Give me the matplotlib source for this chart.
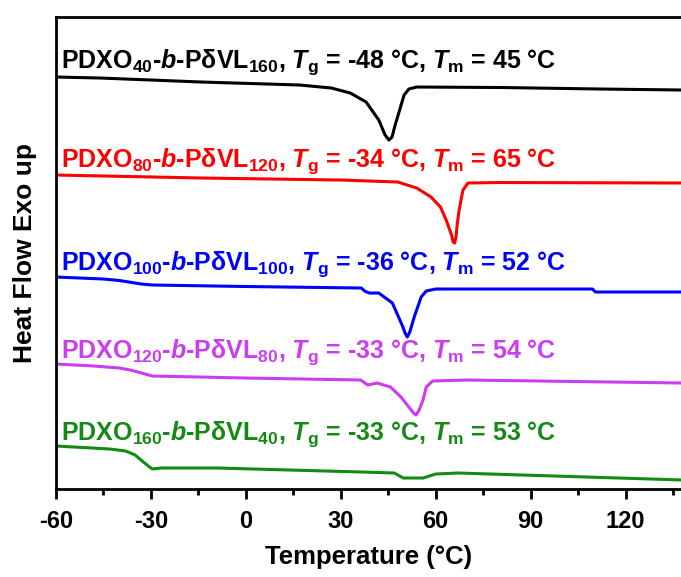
import matplotlib
matplotlib.use('Agg')
import matplotlib.pyplot as plt
from matplotlib.ticker import MultipleLocator

plt.rcParams['font.family'] = ['Liberation Sans', 'DejaVu Sans']
plt.rcParams['font.weight'] = 'bold'
plt.rcParams['axes.unicode_minus'] = False
plt.rcParams['mathtext.fontset'] = 'custom'
plt.rcParams['mathtext.rm'] = 'Liberation Sans:bold'
plt.rcParams['mathtext.it'] = 'Liberation Sans:bold:italic'
plt.rcParams['mathtext.default'] = 'regular'

# DSC heating traces, heat flow in arbitrary units (curves already offset)
T_40 = [-60, -46, -14, 17, 27, 33, 38, 42, 44, 45.2, 46.2, 47, 48.4, 50, 51.5, 54, 81, 112, 138]
hf_40 = [412, 411, 407, 404, 401, 396, 387, 369, 354, 349, 352, 362, 377, 394, 400, 402, 401.5, 400, 399]

T_80 = [-60, -14, 30, 48, 54, 58.5, 61.5, 63.3, 65, 65.5, 66, 66.4, 66.8, 67.4, 68.6, 70.2, 80, 138]
hf_80 = [314, 311, 309, 307, 301, 292, 282, 269, 254, 247, 246, 252, 265, 279, 299, 306, 306.5, 306]

T_100 = [-60, -45, -40, -37, -33, -29.6, 0, 36.5, 37.5, 39, 42, 46.3, 49.5, 50.3, 51, 51.8, 53.2,
         55.4, 57, 60, 109.5, 110.5, 138]
hf_100 = [212, 210, 208.5, 207, 205, 204, 202.5, 201, 198, 196, 196, 186, 163, 156, 152, 157, 172,
          192, 198, 200, 200, 197, 197]

T_120 = [-60, -48, -40, -36.5, -33, -29.6, 0, 36.3, 38.5, 41.5, 45.7, 49, 51.5, 53, 53.8, 54.6, 56,
         57, 59, 70, 138]
hf_120 = [125, 123, 121, 119, 116, 113, 111, 109, 104, 106, 102, 92, 82, 76, 74, 78, 89, 102, 108,
          109, 106]

T_160 = [-60, -43, -38, -35, -32.4, -29.6, -26.8, -9, 36.6, 46.9, 49.7, 56, 60, 67, 138]
hf_160 = [43, 40, 38, 34, 27, 20, 21, 21, 17, 16, 11, 11, 15, 16, 9]

labels = [
    r'PDXO$_{40}$-$\mathit{b}$-PδVL$_{160}$, $\mathit{T}_{g}$ = -48 °C, $\mathit{T}_{m}$ = 45 °C',
    r'PDXO$_{80}$-$\mathit{b}$-PδVL$_{120}$, $\mathit{T}_{g}$ = -34 °C, $\mathit{T}_{m}$ = 65 °C',
    r'PDXO$_{100}$-$\mathit{b}$-PδVL$_{100}$, $\mathit{T}_{g}$ = -36 °C, $\mathit{T}_{m}$ = 52 °C',
    r'PDXO$_{120}$-$\mathit{b}$-PδVL$_{80}$, $\mathit{T}_{g}$ = -33 °C, $\mathit{T}_{m}$ = 54 °C',
    r'PDXO$_{160}$-$\mathit{b}$-PδVL$_{40}$, $\mathit{T}_{g}$ = -33 °C, $\mathit{T}_{m}$ = 53 °C',
]
label_y = [421, 322, 219, 131, 49]
colors = ['black', '#ff0000', '#0000ff', '#cc3cf0', '#138a13']

fig = plt.figure(figsize=(6.81, 5.77), dpi=100)
ax = fig.add_axes([0.0822, 0.1525, 0.9178, 0.818])

curves = [(T_40, hf_40), (T_80, hf_80), (T_100, hf_100), (T_120, hf_120), (T_160, hf_160)]
for (t, hf), c, lab, ly in zip(curves, colors, labels, label_y):
    ax.plot(t, hf, color=c, lw=2.2, solid_joinstyle='round')
    ax.text(-58.4, ly, lab, color=c, fontsize=18, fontweight='bold', va='baseline', ha='left')

ax.set_xlim(-60, 137.5)
ax.set_ylim(0, 472)
ax.xaxis.set_major_locator(MultipleLocator(30))
ax.xaxis.set_minor_locator(MultipleLocator(15))
ax.set_yticks([])
ax.tick_params(axis='x', which='major', direction='out', length=7, width=2, labelsize=17, pad=8)
ax.tick_params(axis='x', which='minor', direction='out', length=4, width=2)
for lbl in ax.get_xticklabels():
    lbl.set_fontweight('bold')
for s in ['left', 'bottom', 'top']:
    ax.spines[s].set_linewidth(2)
ax.spines['right'].set_visible(False)

ax.set_xlabel('Temperature (°C)', fontsize=18.5, fontweight='bold', labelpad=9)
ax.set_ylabel('Heat Flow Exo up', fontsize=19, fontweight='bold', labelpad=14)

fig.savefig('out.png', dpi=100)
